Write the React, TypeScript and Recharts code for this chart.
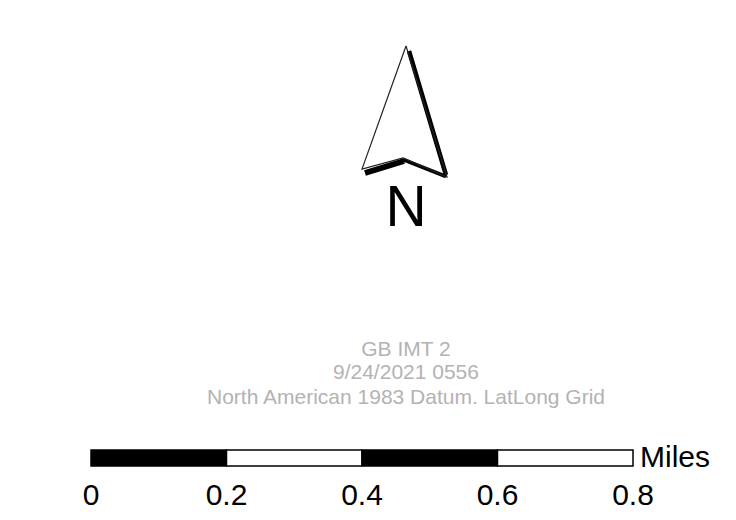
import { Bar, BarChart, ComposedChart, Line, XAxis, YAxis } from 'recharts'

const FONT = '"Liberation Sans", Arial, sans-serif'

// north arrow, in page pixels (y grows downward)
const arrowOutline = [
  { x: 406, y: 46 },
  { x: 362, y: 169 },
  { x: 403, y: 158 },
  { x: 447, y: 177 },
  { x: 406, y: 46 },
]
const shadowRight = [
  { x: 409, y: 51 },
  { x: 446, y: 175 },
]
const shadowBase = [
  { x: 365, y: 173 },
  { x: 404, y: 161 },
]
const shadowNotch = [
  { x: 403, y: 159.5 },
  { x: 446, y: 176.5 },
]

const infoLines = ['GB IMT 2', '9/24/2021 0556', 'North American 1983 Datum. LatLong Grid']
const infoBaselines = [356, 379, 404]

// scale bar
const scaleSegments = [{ name: 'bar', s1: 0.2, s2: 0.2, s3: 0.2, s4: 0.2 }]
const segmentKeys = ['s1', 's2', 's3', 's4']
const segmentFills = ['#000000', '#ffffff', '#000000', '#ffffff']
const scaleTicks = [0, 0.2, 0.4, 0.6, 0.8]
const scaleUnit = 'Miles'

function NorthArrow() {
  return (
    <div style={{ position: 'absolute', left: 0, top: 0 }}>
      <ComposedChart width={736} height={240} margin={{ top: 0, right: 0, left: 0, bottom: 0 }}>
        <XAxis type="number" dataKey="x" domain={[0, 736]} hide allowDataOverflow />
        <YAxis type="number" dataKey="y" domain={[0, 240]} reversed hide allowDataOverflow />
        <Line data={shadowRight} dataKey="y" stroke="#000" strokeWidth={4.5} dot={false} isAnimationActive={false} />
        <Line data={shadowBase} dataKey="y" stroke="#000" strokeWidth={6} dot={false} isAnimationActive={false} />
        <Line data={shadowNotch} dataKey="y" stroke="#000" strokeWidth={3.5} dot={false} isAnimationActive={false} />
        <Line
          data={arrowOutline}
          dataKey="y"
          stroke="#222"
          strokeWidth={1.2}
          strokeLinejoin="miter"
          dot={false}
          isAnimationActive={false}
        />
      </ComposedChart>
      <svg width={736} height={240} style={{ position: 'absolute', left: 0, top: 0 }}>
        <text x={406} y={226} textAnchor="middle" fontFamily={FONT} fontSize={57} fill="#000">
          N
        </text>
      </svg>
    </div>
  )
}

function InfoText() {
  return (
    <svg width={736} height={100} style={{ position: 'absolute', left: 0, top: 320 }}>
      {infoLines.map((t, i) => (
        <text key={t} x={406} y={infoBaselines[i] - 320} textAnchor="middle" fontFamily={FONT} fontSize={21} fill="#b3b3b3">
          {t}
        </text>
      ))}
    </svg>
  )
}

function ScaleBar() {
  return (
    <div style={{ position: 'absolute', left: 0, top: 440 }}>
      <BarChart
        width={736}
        height={80}
        layout="vertical"
        data={scaleSegments}
        barCategoryGap={0}
        margin={{ top: 10, right: 103, left: 91, bottom: 0 }}
      >
        <XAxis
          type="number"
          domain={[0, 0.8]}
          ticks={scaleTicks}
          axisLine={false}
          tickLine={false}
          tickMargin={12}
          height={54}
          interval={0}
          tick={{ fontSize: 30, fill: '#000', fontFamily: FONT }}
        />
        <YAxis type="category" dataKey="name" hide />
        {segmentKeys.map((k, i) => (
          <Bar key={k} dataKey={k} stackId="a" fill={segmentFills[i]} stroke="#000" strokeWidth={1.5} isAnimationActive={false} />
        ))}
      </BarChart>
      <svg width={736} height={40} style={{ position: 'absolute', left: 0, top: 0 }}>
        <text x={640} y={27} fontFamily={FONT} fontSize={30} fill="#000">
          {scaleUnit}
        </text>
      </svg>
    </div>
  )
}

export default function App() {
  return (
    <div style={{ position: 'absolute', left: 0, top: 0, width: 736, height: 520, background: '#fff', overflow: 'hidden' }}>
      <NorthArrow />
      <InfoText />
      <ScaleBar />
    </div>
  )
}
